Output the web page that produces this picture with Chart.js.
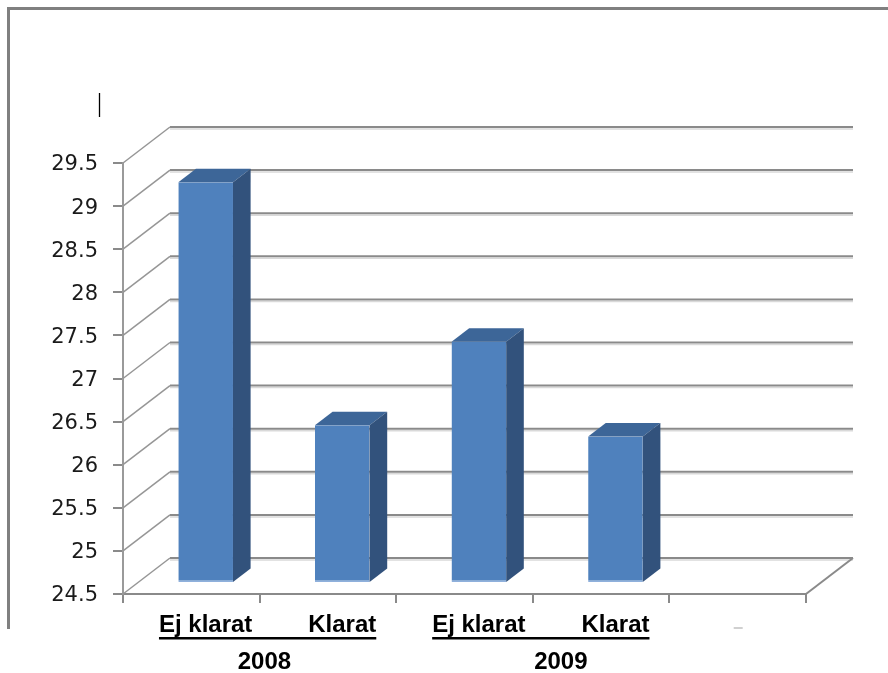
<!DOCTYPE html>
<html>
<head>
<meta charset="utf-8">
<script src="https://cdn.jsdelivr.net/npm/chart.js@4"></script>
<style>
  html, body { margin: 0; padding: 0; background: #fff; }
  canvas { display: block; }
</style>
</head>
<body>
<canvas id="c" width="888" height="673"></canvas>
<script>
// Category labels along the front axis, one value per column
const categories = ['Ej klarat', 'Klarat', 'Ej klarat', 'Klarat', ''];
const values = [29.15, 26.33, 27.3, 26.2, null];
// Year groups underneath the category labels
const years = ['2008', '2009'];
const yearGroups = [[0, 1], [2, 3]];
// Value axis range
const yMin = 24.5;
const yMax = 29.5;
const yStep = 0.5;

// Perspective of the box: offset from the front plane to the back wall
const WALL = { dx: 47, dy: -36 };
// Depth fractions where the column slab starts and ends
const SLAB_FRONT = 11 / 36;
const SLAB_BACK = 24.5 / 36;
// Horizontal anchor (in category units) for each year caption
const YEAR_ANCHOR = [0.43, 2.6];

const LABEL_FONT = 'bold 24px "Liberation Sans", Arial, sans-serif';

const box3d = {
  id: 'box3d',
  beforeDraw(chart) {
    const ctx = chart.ctx;
    ctx.save();
    ctx.fillStyle = '#fff';
    ctx.fillRect(0, 0, chart.width, chart.height);
    // outer frame (left and top edges)
    ctx.strokeStyle = '#808080';
    ctx.lineWidth = 3;
    ctx.beginPath();
    ctx.moveTo(8.5, 629);
    ctx.lineTo(8.5, 8.5);
    ctx.lineTo(chart.width, 8.5);
    ctx.stroke();
    // thin vertical stroke near the top left
    ctx.strokeStyle = '#000';
    ctx.lineWidth = 1.3;
    ctx.beginPath();
    ctx.moveTo(99.5, 93);
    ctx.lineTo(99.5, 117);
    ctx.stroke();
    ctx.restore();
  },
  beforeDatasetsDraw(chart) {
    const { ctx, chartArea: a, scales: { y } } = chart;
    ctx.save();
    y.ticks.forEach(t => {
      const py = y.getPixelForValue(t.value);
      // back wall gridline with its soft shadow
      ctx.strokeStyle = '#d9d9d9';
      ctx.lineWidth = 1.5;
      ctx.beginPath();
      ctx.moveTo(a.left + WALL.dx, py + WALL.dy + 2);
      ctx.lineTo(a.right + WALL.dx, py + WALL.dy + 2);
      ctx.stroke();
      ctx.strokeStyle = '#8a8a8a';
      ctx.lineWidth = 2;
      ctx.beginPath();
      ctx.moveTo(a.left + WALL.dx, py + WALL.dy);
      ctx.lineTo(a.right + WALL.dx, py + WALL.dy);
      ctx.stroke();
      // side wall diagonal
      ctx.strokeStyle = '#969696';
      ctx.lineWidth = 1.5;
      ctx.beginPath();
      ctx.moveTo(a.left, py);
      ctx.lineTo(a.left + WALL.dx, py + WALL.dy);
      ctx.stroke();
    });
    // right edge of the floor
    ctx.strokeStyle = '#8a8a8a';
    ctx.lineWidth = 2;
    ctx.beginPath();
    ctx.moveTo(a.right, a.bottom);
    ctx.lineTo(a.right + WALL.dx, a.bottom + WALL.dy);
    ctx.stroke();
    ctx.restore();
    // columns stand part way into the box
    ctx.save();
    ctx.translate(WALL.dx * SLAB_FRONT, WALL.dy * SLAB_FRONT);
  },
  afterDatasetsDraw(chart) {
    const ctx = chart.ctx;
    ctx.restore();
    const fx = WALL.dx * SLAB_FRONT, fy = WALL.dy * SLAB_FRONT;
    const sx = WALL.dx * (SLAB_BACK - SLAB_FRONT), sy = WALL.dy * (SLAB_BACK - SLAB_FRONT);
    ctx.save();
    chart.getDatasetMeta(0).data.forEach((bar, i) => {
      if (values[i] == null) return;
      const { x, y, base, width } = bar.getProps(['x', 'y', 'base', 'width'], true);
      const l = x - width / 2 + fx, r = x + width / 2 + fx;
      const t = y + fy, b = base + fy;
      // top face
      ctx.fillStyle = '#3d6698';
      ctx.beginPath();
      ctx.moveTo(l, t);
      ctx.lineTo(r, t);
      ctx.lineTo(r + sx, t + sy);
      ctx.lineTo(l + sx, t + sy);
      ctx.closePath();
      ctx.fill();
      // side face
      ctx.fillStyle = '#32527c';
      ctx.beginPath();
      ctx.moveTo(r, t);
      ctx.lineTo(r + sx, t + sy);
      ctx.lineTo(r + sx, b + sy);
      ctx.lineTo(r, b);
      ctx.closePath();
      ctx.fill();
    });
    ctx.restore();
  },
  afterDraw(chart) {
    const { ctx, scales: { x } } = chart;
    const shift = WALL.dx * SLAB_FRONT;
    ctx.save();
    ctx.font = LABEL_FONT;
    ctx.fillStyle = '#000';
    yearGroups.forEach((g, k) => {
      const x0 = x.getPixelForValue(g[0]) + shift - ctx.measureText(categories[g[0]]).width / 2;
      const x1 = x.getPixelForValue(g[g.length - 1]) + shift + ctx.measureText(categories[g[g.length - 1]]).width / 2;
      // underline running under both labels of the group
      ctx.fillRect(x0, x.top + 43, x1 - x0, 2.5);
      ctx.textAlign = 'center';
      ctx.textBaseline = 'alphabetic';
      ctx.fillText(years[k], x.getPixelForValue(YEAR_ANCHOR[k]) + shift, x.top + 75);
    });
    // faint mark under the empty last category
    ctx.fillStyle = '#d0d0d0';
    ctx.fillRect(x.getPixelForValue(4) - 4, x.top + 33, 9, 2);
    ctx.restore();
  }
};

new Chart(document.getElementById('c'), {
  type: 'bar',
  data: {
    labels: categories,
    datasets: [{
      data: values,
      base: yMin,
      backgroundColor: '#4f81bd',
      borderColor: '#8fb0dc',
      borderWidth: { top: 0, left: 0, right: 0, bottom: 1.5 },
      borderSkipped: false,
      categoryPercentage: 1,
      barPercentage: 0.4,
      clip: false
    }]
  },
  options: {
    responsive: false,
    animation: false,
    events: [],
    layout: { padding: { left: 8, top: 163, right: 82, bottom: 0 } },
    plugins: { legend: { display: false }, tooltip: { enabled: false } },
    scales: {
      x: {
        offset: true,
        grid: { display: true, drawOnChartArea: false, drawTicks: true, tickLength: 9, color: '#8a8a8a', lineWidth: 2, offset: true },
        border: { display: true, color: '#8a8a8a', width: 2 },
        ticks: {
          font: { family: '"Liberation Sans", Arial, sans-serif', weight: 'bold', size: 24 },
          color: '#000',
          padding: 8,
          maxRotation: 0,
          autoSkip: false,
          labelOffset: WALL.dx * SLAB_FRONT
        },
        afterFit(scale) { scale.height = 79; }
      },
      y: {
        min: yMin,
        max: yMax,
        grid: { display: true, drawOnChartArea: false, drawTicks: true, tickLength: 10, color: '#8a8a8a', lineWidth: 2 },
        border: { display: true, color: '#9a9a9a', width: 2 },
        ticks: {
          stepSize: yStep,
          font: { family: '"DejaVu Sans", sans-serif', size: 21 },
          color: '#1a1a1a',
          padding: 15,
          labelOffset: 2,
          callback: v => String(v)
        },
        afterFit(scale) { scale.width = 115; }
      }
    }
  },
  plugins: [box3d]
});
</script>
</body>
</html>
